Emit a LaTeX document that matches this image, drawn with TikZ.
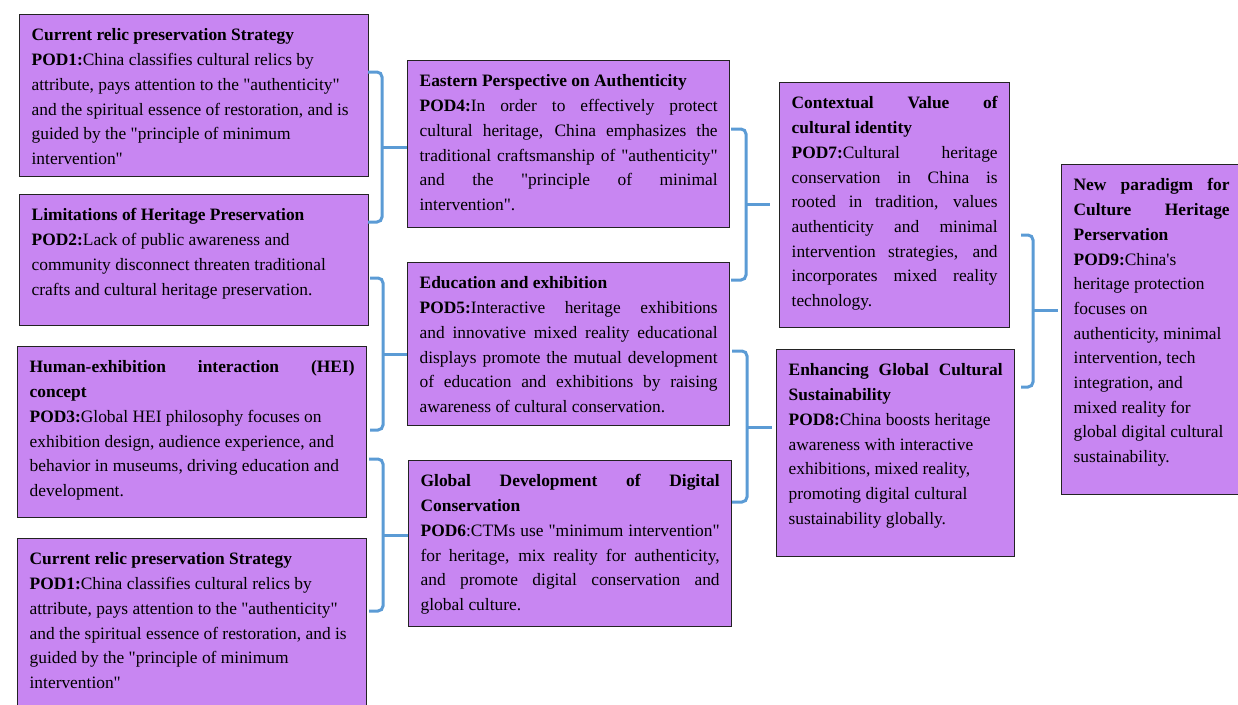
\documentclass[tikz,border=0pt]{standalone}
\usepackage{fontspec}
\setmainfont{Liberation Serif}
\usepackage{tikz}
\definecolor{podfill}{RGB}{200,134,242}
\definecolor{podline}{RGB}{35,35,35}
\definecolor{bracketblue}{RGB}{91,155,213}
\newcommand{\dq}{\textquotedbl}

\begin{document}
\begin{tikzpicture}[x=1pt,y=-1pt,
	pod/.style 2 args={draw=podline, line width=1.3pt, fill=podfill, anchor=north west,
		inner xsep=12pt, inner ysep=9pt, font=\fontsize{17.4}{24.7}\selectfont,
		execute at begin node={\begin{minipage}[t][\dimexpr#2pt-18pt\relax][t]{\dimexpr#1pt-24pt\relax}\tolerance=10000\hyphenpenalty=10000\strut},
		execute at end node={\end{minipage}}},
	bracket/.style={draw=bracketblue, line width=3pt, rounded corners=5pt}]
		\useasboundingbox (0,0) rectangle (1238,704);
		\clip (0,0) rectangle (1238,704);
		\node[pod={349}{162}] (pod1top) at (19,14) {\raggedright\textbf{Current relic preservation Strategy}\\
			\textbf{POD1:}China classifies cultural relics by\\
			attribute, pays attention to the \dq authenticity\dq\\
			and the spiritual essence of restoration, and is\\
			guided by the \dq principle of minimum\\
			intervention\dq};
		\node[pod={349}{131}] (pod2) at (19,194) {\raggedright\textbf{Limitations of Heritage Preservation}\\
			\textbf{POD2:}Lack of public awareness and\\
			community disconnect threaten traditional\\
			crafts and cultural heritage preservation.};
		\node[pod={349}{171}] (pod3) at (17,346) {\textbf{Human-exhibition interaction (HEI)\linebreak concept}\par
			\raggedright\textbf{POD3:}Global HEI philosophy focuses on\\
			exhibition design, audience experience, and\\
			behavior in museums, driving education and\\
			development.};
		\node[pod={349}{180}] (pod1bot) at (17,538) {\raggedright\textbf{Current relic preservation Strategy}\\
			\textbf{POD1:}China classifies cultural relics by\\
			attribute, pays attention to the \dq authenticity\dq\\
			and the spiritual essence of restoration, and is\\
			guided by the \dq principle of minimum\\
			intervention\dq};
		\node[pod={322}{167}] (pod4) at (407,60) {\textbf{Eastern Perspective on Authenticity}\\
			\textbf{POD4:}In order to effectively protect\linebreak
			cultural heritage, China emphasizes the\linebreak
			traditional craftsmanship of \dq authenticity\dq\linebreak
			and the \dq principle of minimal\linebreak
			intervention\dq.};
		\node[pod={322}{163}] (pod5) at (407,262) {\textbf{Education and exhibition}\\
			\textbf{POD5:}Interactive heritage exhibitions\linebreak
			and innovative mixed reality educational\linebreak
			displays promote the mutual development\linebreak
			of education and exhibitions by raising\linebreak
			awareness of cultural conservation.};
		\node[pod={323}{166}] (pod6) at (408,460) {\textbf{Global Development of Digital\linebreak Conservation}\par
			\textbf{POD6}:CTMs use \dq minimum intervention\dq\linebreak
			for heritage, mix reality for authenticity,\linebreak
			and promote digital conservation and\linebreak
			global culture.};
		\node[pod={230}{245}] (pod7) at (779,82) {\textbf{Contextual Value of\linebreak cultural identity}\par
			\textbf{POD7:}Cultural heritage\linebreak
			conservation in China is\linebreak
			rooted in tradition, values\linebreak
			authenticity and minimal\linebreak
			intervention strategies, and\linebreak
			incorporates mixed reality\linebreak
			technology.};
		\node[pod={238}{207}] (pod8) at (776,349) {\textbf{Enhancing Global Cultural\linebreak Sustainability}\par
			\raggedright\textbf{POD8:}China boosts heritage\\
			awareness with interactive\\
			exhibitions, mixed reality,\\
			promoting digital cultural\\
			sustainability globally.};
		\node[pod={180}{330}] (pod9) at (1061,164) {\textbf{New paradigm for\linebreak Culture Heritage\linebreak Perservation}\par
			\raggedright\textbf{POD9:}China\textquotesingle s\\
			heritage protection\\
			focuses on\\
			authenticity, minimal\\
			intervention, tech\\
			integration, and\\
			mixed reality for\\
			global digital cultural\\
			sustainability.};
		\coordinate (a1) at (368,72); \coordinate (a2) at (368,222); \coordinate (a0) at (382,147);
		\coordinate (b1) at (370,278); \coordinate (b2) at (370,430); \coordinate (b0) at (383,354);
		\coordinate (c1) at (369,459); \coordinate (c2) at (369,611); \coordinate (c0) at (383,535);
		\coordinate (d1) at (731,129); \coordinate (d2) at (731,280); \coordinate (d0) at (746,204);
		\coordinate (e1) at (732,351); \coordinate (e2) at (732,502); \coordinate (e0) at (747,427);
		\coordinate (f1) at (1021,235); \coordinate (f2) at (1021,387); \coordinate (f0) at (1033,310);
		\draw[bracket] (a1) -| (a0) |- (a2);
		\draw[bracket] (a0) -- (a0 -| pod4.west);
		\draw[bracket] (b1) -| (b0) |- (b2);
		\draw[bracket] (b0) -- (b0 -| pod5.west);
		\draw[bracket] (c1) -| (c0) |- (c2);
		\draw[bracket] (c0) -- (c0 -| pod6.west);
		\draw[bracket] (d1) -| (d0) |- (d2);
		\draw[bracket, shorten >=9pt] (d0) -- (d0 -| pod7.west);
		\draw[bracket] (e1) -| (e0) |- (e2);
		\draw[bracket, shorten >=4pt] (e0) -- (e0 -| pod8.west);
		\draw[bracket] (f1) -| (f0) |- (f2);
		\draw[bracket, shorten >=3pt] (f0) -- (f0 -| pod9.west);
	\end{tikzpicture}
\end{document}
